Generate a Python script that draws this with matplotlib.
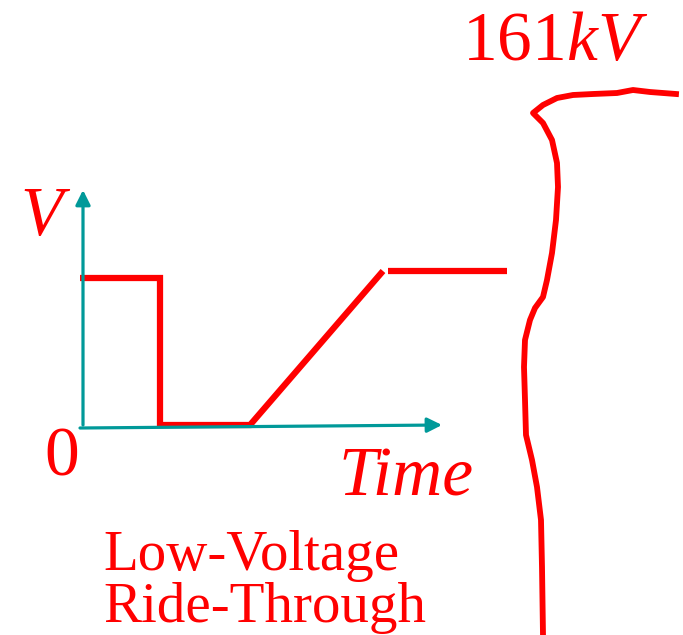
import numpy as np
import matplotlib
matplotlib.use("Agg")
import matplotlib.pyplot as plt

plt.rcParams['mathtext.fontset'] = 'custom'
plt.rcParams['mathtext.rm'] = 'Liberation Serif'
plt.rcParams['mathtext.it'] = 'Liberation Serif:italic'

RED = '#ff0000'
TEAL = '#009999'

# voltage profile (pixel coords of the sketch)
ride_x = [80, 160, 160, 250, 383]
ride_y = [278, 278, 425, 425, 271]
flat_x = [388, 507]
flat_y = [271, 271]

# 161 kV line sketch on the right
line_x = [676, 650, 633, 617, 593, 573, 557, 543, 533, 543, 552, 557, 558, 556, 552,
          547, 543, 535, 530, 525, 524, 525, 526, 532, 537, 541, 542, 543]
line_y = [94, 92, 90, 93, 94, 95, 98, 105, 113, 123, 140, 163, 187, 220, 253,
          280, 297, 308, 320, 340, 367, 400, 435, 460, 487, 520, 567, 635]

# axis arrows: (start, tip)
y_axis = ((83, 425), (83, 190))
x_axis = ((80, 428), (442, 425))

fig = plt.figure(figsize=(6.83, 6.35), dpi=100)
ax = fig.add_axes([0, 0, 1, 1])
ax.set_xlim(0, 683)
ax.set_ylim(635, 0)
ax.axis('off')

for start, tip in (y_axis, x_axis):
    ax.annotate('', xy=tip, xytext=start,
                arrowprops=dict(arrowstyle='-|>', color=TEAL, lw=2.3,
                                mutation_scale=22, shrinkA=0, shrinkB=0))

ax.plot(ride_x, ride_y, color=RED, lw=4.5, solid_joinstyle='miter', solid_capstyle='butt')
ax.plot(flat_x, flat_y, color=RED, lw=4.5, solid_capstyle='butt')
ax.plot(line_x, line_y, color=RED, lw=4.2, solid_joinstyle='round')

serif = 'Liberation Serif'
ax.text(462, 60, r'$\mathrm{161}kV$', color=RED, fontsize=50, va='baseline', ha='left')
ax.text(20, 235, 'V', color=RED, fontsize=50, family=serif, style='italic', va='baseline')
ax.text(44, 476, '0', color=RED, fontsize=50, family=serif, va='baseline')
ax.text(338, 495, 'Time', color=RED, fontsize=50, family=serif, style='italic', va='baseline')
ax.text(103, 570, 'Low-Voltage', color=RED, fontsize=41, family=serif, va='baseline')
ax.text(103, 622, 'Ride-Through', color=RED, fontsize=41, family=serif, va='baseline')

fig.savefig('out.png', dpi=100)
